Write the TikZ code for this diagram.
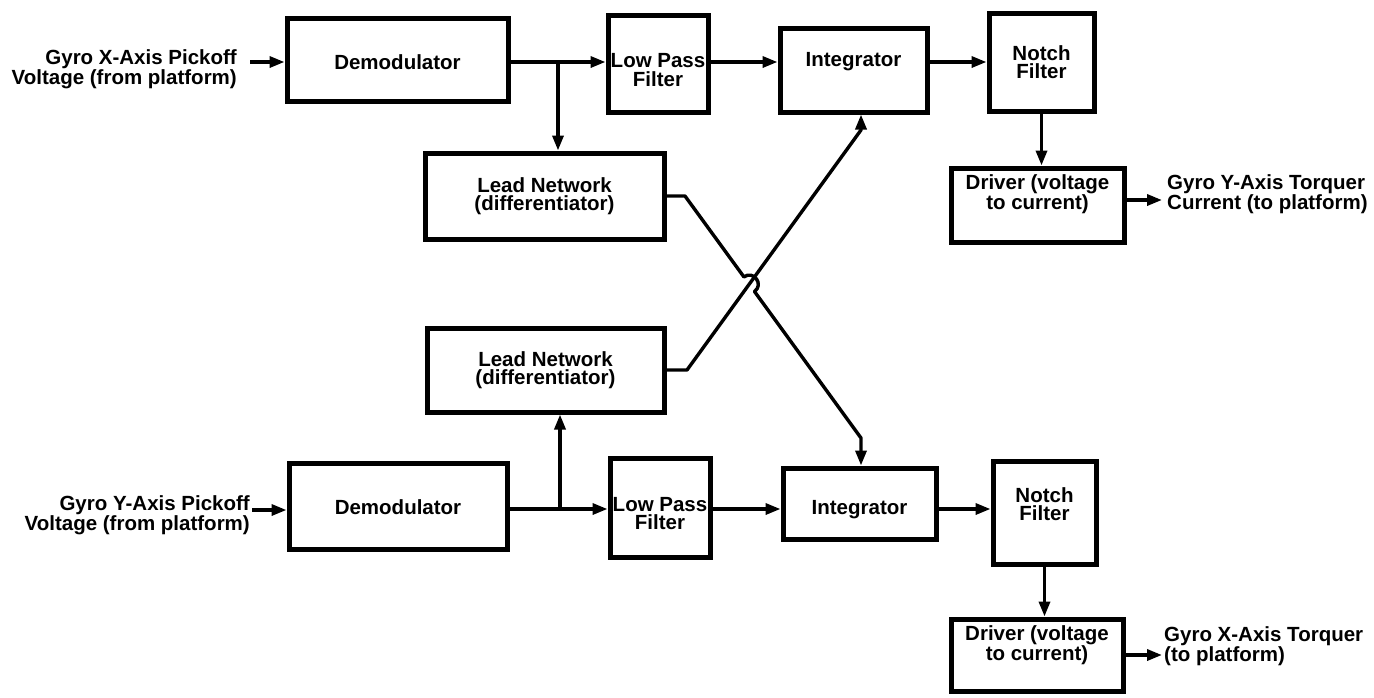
\documentclass[tikz,border=0pt]{standalone}
\usepackage{fontspec}
\setmainfont{Liberation Sans}
\usetikzlibrary{arrows.meta}
\newcommand\dtxt{\fontsize{20.5}{18.5}\selectfont\bfseries}
\tikzset{
  box/.style={draw, line width=5pt, inner sep=0pt, align=center, font=\dtxt},
  lbl/.style={inner sep=0pt, font=\dtxt},
  wire/.style={line width=3.4pt},
  conn/.style={line width=3.4pt, -{Triangle[length=15pt,width=11pt]}},
}
\begin{document}
\begin{tikzpicture}[x=1pt,y=-1pt]
\useasboundingbox (0,0) rectangle (1374,697);
% ---------- top channel ----------
\coordinate (r1) at (0,62);
\node[lbl, anchor=east, align=right] (xin) at (237,69) {Gyro X-Axis Pickoff\\Voltage (from platform)};
\node[box, minimum width=221pt, minimum height=83pt] (dem1) at (397.5,60) {};
\node[lbl] (dem1t) at (397.5,62) {Demodulator};
\node[box, minimum width=100pt, minimum height=97pt] (lpf1) at (658,63.5) {};
\node[lbl, align=center] (lpf1t) at (658,70) {Low Pass\\Filter};
\node[box, minimum width=147pt, minimum height=84pt] (int1) at (853.5,70) {};
\node[lbl] (int1t) at (853.5,62) {Integrator};
\node[box, minimum width=105pt, minimum height=98pt] (notch1) at (1041.5,62) {};
\node[lbl, align=center] (notch1t) at (1041.5,62) {Notch\\Filter};
\node[box, minimum width=173pt, minimum height=74pt] (drv1) at (1037.5,205) {};
\node[lbl, align=center] (drv1t) at (1037.5,194) {Driver (voltage\\to current)};
\node[box, minimum width=239pt, minimum height=86pt] (lead1) at (544.5,196) {Lead Network\\(differentiator)};
\node[lbl, anchor=west, align=left] (yout) at (1167,194) {Gyro Y-Axis Torquer\\Current (to platform)};
\coordinate (xin0) at (250,62);
\coordinate (br1) at (558,62);
\coordinate (o1) at (1162,200);
\draw[conn] (xin0) -- (dem1.west |- xin0);
\draw[conn] (dem1.east |- r1) -- (lpf1.west |- r1);
\draw[conn] (br1) -- (br1 |- lead1.north);
\draw[conn] (lpf1.east |- r1) -- (int1.west |- r1);
\draw[conn] (int1.east |- r1) -- (notch1.west |- r1);
\draw[conn] (notch1.south) -- (notch1.south |- drv1.north);
\draw[conn] (drv1.east |- o1) -- (o1);
% ---------- bottom channel ----------
\coordinate (r2) at (0,509);
\node[lbl, anchor=east, align=right] (yin) at (250,515) {Gyro Y-Axis Pickoff\\Voltage (from platform)};
\node[box, minimum width=218pt, minimum height=86pt] (dem2) at (398,506) {};
\node[lbl] (dem2t) at (398,507) {Demodulator};
\node[box, minimum width=100pt, minimum height=99pt] (lpf2) at (660,507.5) {};
\node[lbl, align=center] (lpf2t) at (660,513.5) {Low Pass\\Filter};
\node[box, minimum width=153pt, minimum height=71pt] (int2) at (859.5,503.5) {};
\node[lbl] (int2t) at (859.5,510) {Integrator};
\node[box, minimum width=103pt, minimum height=103pt] (notch2) at (1044.5,512.5) {};
\node[lbl, align=center] (notch2t) at (1044.5,504) {Notch\\Filter};
\node[box, minimum width=172pt, minimum height=72pt] (drv2) at (1037,655) {};
\node[lbl, align=center] (drv2t) at (1037,645) {Driver (voltage\\to current)};
\node[box, minimum width=237pt, minimum height=84pt] (lead2) at (545.5,370) {Lead Network\\(differentiator)};
\node[lbl, anchor=west, align=left] (xout) at (1164,646) {Gyro X-Axis Torquer\\(to platform)};
\coordinate (yin0) at (252,510);
\coordinate (br2) at (560,509);
\coordinate (o2) at (1162,655);
\draw[conn] (yin0) -- (dem2.west |- yin0);
\draw[conn] (dem2.east |- r2) -- (lpf2.west |- r2);
\draw[conn] (br2) -- (br2 |- lead2.south);
\draw[conn] (lpf2.east |- r2) -- (int2.west |- r2);
\draw[conn] (int2.east |- r2) -- (notch2.west |- r2);
\draw[conn] (notch2.south) -- (notch2.south |- drv2.north);
\draw[conn] (drv2.east |- o2) -- (o2);
% ---------- cross connections ----------
\coordinate (d1) at (685,196);
\coordinate (h1) at (743.9,276.9);
\coordinate (h1c) at (753.6,269.9);
\coordinate (h2c) at (764.2,284.4);
\coordinate (h2) at (754.5,291.5);
\coordinate (d2) at (861,438);
\draw[conn, line join=round] (lead1.east) -- (d1) -- (h1) .. controls (h1c) and (h2c) .. (h2) -- (d2) -- (d2 |- int2.north);
\coordinate (a1) at (687,370);
\coordinate (a2) at (861,130);
\draw[conn, line join=round] (lead2.east) -- (a1) -- (a2) -- (a2 |- int1.south);
\end{tikzpicture}
\end{document}
